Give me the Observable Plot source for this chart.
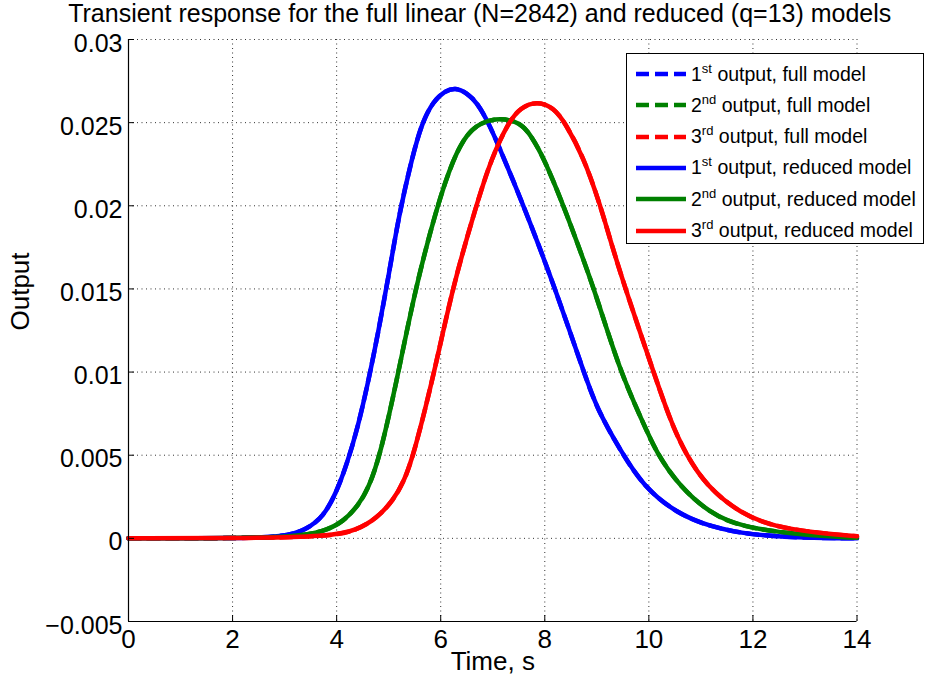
<!DOCTYPE html>
<html>
<head>
<meta charset="utf-8">
<script src="https://cdn.jsdelivr.net/npm/d3@7"></script>
<script src="https://cdn.jsdelivr.net/npm/@observablehq/plot@0.6"></script>
<style>
  html, body { margin: 0; padding: 0; background: #fff; }
  #wrap { position: relative; width: 930px; height: 685px; font-family: "Liberation Sans", Arial, sans-serif; }
  #legend { position: absolute; left: 626px; top: 53px; width: 298px; height: 191px; box-sizing: border-box;
            border: 1.5px solid #000; background: #fff; }
  .row { position: absolute; left: 9px; height: 30px; display: flex; align-items: center; white-space: nowrap;
         font-size: 19.5px; color: #000; }
  .row svg { margin-right: 5px; }
  .row sup { font-size: 13px; vertical-align: 0; position: relative; top: -8px; }
</style>
</head>
<body>
<div id="wrap"></div>
<script>
// ---- data ----
const title = "Transient response for the full linear (N=2842) and reduced (q=13) models";
const xLabel = "Time, s";
const yLabel = "Output";
const xTicks = [0, 2, 4, 6, 8, 10, 12, 14];
const yTicks = [-0.005, 0, 0.005, 0.01, 0.015, 0.02, 0.025, 0.03];

const out1Time  = [0, 2, 3.0, 3.4, 3.75, 4.0, 4.2, 4.4, 4.6, 4.8, 5.0, 5.2, 5.45, 5.64, 5.86, 6.08, 6.28, 6.5, 6.70, 6.92, 7.21, 7.59, 7.85, 8.2, 8.75, 9.0, 9.45, 9.9, 10.54, 11.18, 11.95, 13, 14];
const out1Value = [0, 0, 0.0001, 0.0005, 0.0013, 0.0028, 0.0045, 0.0066, 0.0093, 0.0124, 0.0158, 0.0195, 0.0229, 0.025, 0.0263, 0.0269, 0.0271, 0.0268, 0.0262, 0.025, 0.0229, 0.020, 0.0179, 0.015, 0.010, 0.0078, 0.0053, 0.0031, 0.0015, 0.0007, 0.0002, 0.00003, 0];

const out2Time  = [0, 2, 3.2, 3.75, 4.13, 4.42, 4.61, 4.84, 5.19, 5.51, 5.93, 6.25, 6.50, 6.76, 7.14, 7.53, 7.72, 7.98, 8.36, 8.62, 8.95, 9.45, 9.87, 10.15, 10.6, 11.18, 11.76, 12.9, 14];
const out2Value = [0, 0, 0.0001, 0.0004, 0.001, 0.002, 0.003, 0.005, 0.010, 0.015, 0.020, 0.0229, 0.0243, 0.025, 0.0253, 0.025, 0.0243, 0.0229, 0.020, 0.0178, 0.015, 0.010, 0.0071, 0.0051, 0.0031, 0.0015, 0.0007, 0.0002, 0.00003];

const out3Time  = [0, 2, 3.9, 4.39, 4.77, 5.09, 5.29, 5.48, 5.88, 6.22, 6.68, 6.98, 7.30, 7.53, 7.85, 8.17, 8.39, 8.75, 9.07, 9.3, 9.55, 10.09, 10.41, 10.70, 11.12, 11.76, 12.40, 13.3, 14];
const out3Value = [0, 0, 0.0001, 0.0005, 0.0012, 0.0023, 0.0034, 0.005, 0.010, 0.015, 0.020, 0.0229, 0.025, 0.0259, 0.0263, 0.0259, 0.025, 0.0229, 0.020, 0.0175, 0.015, 0.010, 0.0071, 0.0051, 0.0031, 0.0015, 0.0007, 0.0003, 0.00012];

const seriesNames = ["1st", "2nd", "3rd"];
const seriesColors = ["#0000ff", "#008000", "#ff0000"];

// ---- build tables ----
const series = [
  {name: seriesNames[0], color: seriesColors[0], t: out1Time, v: out1Value},
  {name: seriesNames[1], color: seriesColors[1], t: out2Time, v: out2Value},
  {name: seriesNames[2], color: seriesColors[2], t: out3Time, v: out3Value}
];
const rows = series.flatMap(s => s.t.map((t, i) => ({series: s.name, color: s.color, t, v: s.v[i]})));

const fmt = d3.format(".3~f");
const tickFmt = d => d === 0 ? "0" : fmt(d);

const W = 930, H = 685, mL = 128, mR = 73.5, mT = 39, mB = 64;
const innerW = W - mL - mR, innerH = H - mT - mB;
const gridStyle = {stroke: "#333", strokeOpacity: 1, strokeWidth: 1, strokeDasharray: "1,3.5"};

const chart = Plot.plot({
  width: W, height: H,
  marginLeft: mL, marginRight: mR, marginTop: mT, marginBottom: mB,
  x: {domain: [0, 14]},
  y: {domain: [-0.005, 0.03]},
  style: {fontFamily: "'Liberation Sans', Arial, sans-serif", fontSize: "26px", color: "#000", background: "#fff", overflow: "visible"},
  marks: [
    Plot.gridX(xTicks, gridStyle),
    Plot.gridY(yTicks, gridStyle),
    // full model (dashed) underneath
    Plot.line(rows, {x: "t", y: "v", z: "series", stroke: "color", strokeWidth: 4.5, strokeDasharray: "12,7", curve: "basis"}),
    // reduced model (solid) on top
    Plot.line(rows, {x: "t", y: "v", z: "series", stroke: "color", strokeWidth: 4.5, curve: "basis"}),
    Plot.ruleX([0], {stroke: "#000", strokeWidth: 1.2}),
    Plot.ruleY([-0.005], {stroke: "#000", strokeWidth: 1.2}),
    Plot.tickX(xTicks, {x: d => d, stroke: "#000", insetTop: innerH - 6}),
    Plot.tickY(yTicks, {y: d => d, stroke: "#000", insetRight: innerW - 6}),
    Plot.axisX(xTicks, {tickSize: 0, tickPadding: 8, tickFormat: d => String(d), label: null, fontSize: 26}),
    Plot.axisY(yTicks, {tickSize: 0, tickPadding: 6, tickFormat: tickFmt, label: null, fontSize: 25, dy: 4}),
    Plot.text([xLabel], {frameAnchor: "bottom", dy: 48, fontSize: 26}),
    Plot.text([yLabel], {frameAnchor: "left", dx: -108, rotate: -90, fontSize: 26}),
    Plot.text([title], {frameAnchor: "top", lineAnchor: "top", dx: -13, dy: -35, fontSize: 25})
  ]
});

const wrap = document.getElementById("wrap");
wrap.appendChild(chart);

// ---- legend ----
const legend = document.createElement("div");
legend.id = "legend";
const entries = [
  ...series.map(s => ({s, dashed: true, label: " output, full model"})),
  ...series.map(s => ({s, dashed: false, label: " output, reduced model"}))
];
entries.forEach((e, i) => {
  const row = document.createElement("div");
  row.className = "row";
  row.style.top = (5 + i * 31.3) + "px";
  const num = e.s.name.slice(0, 1), suf = e.s.name.slice(1);
  row.innerHTML =
    `<svg width="50" height="10"><line x1="0" y1="5" x2="50" y2="5" stroke="${e.s.color}" stroke-width="4.5" ${e.dashed ? 'stroke-dasharray="13,6"' : ''}/></svg>` +
    `<span>${num}<sup>${suf}</sup>${e.label}</span>`;
  legend.appendChild(row);
});
wrap.appendChild(legend);
</script>
</body>
</html>
